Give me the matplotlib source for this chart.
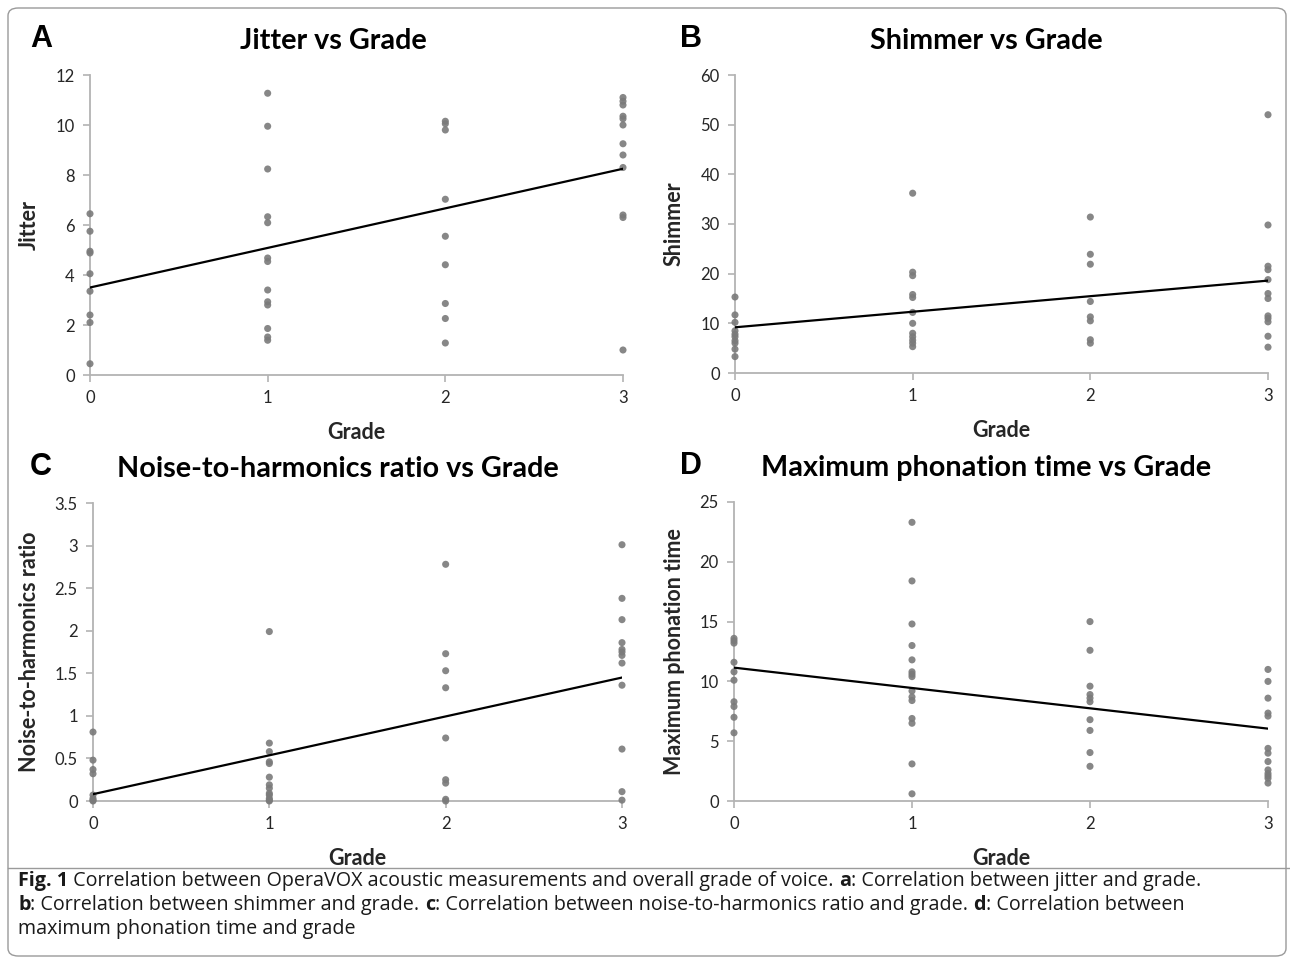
import numpy as np
import matplotlib
matplotlib.use("Agg")
import matplotlib.pyplot as plt
from matplotlib.patches import FancyBboxPatch
from matplotlib.lines import Line2D

W, H = 1290, 958
fig = plt.figure(figsize=(W / 100, H / 100), dpi=100)

grades = [0, 1, 2, 3]

# --- values, one list per grade ---
jitter = [
    [6.45, 5.75, 4.95, 4.88, 4.05, 3.35, 2.4, 2.1, 0.45],
    [11.27, 9.95, 8.24, 6.33, 6.09, 4.68, 4.54, 3.40, 2.93, 2.80, 1.86, 1.52, 1.39],
    [10.15, 10.05, 9.8, 7.03, 5.55, 4.41, 2.86, 2.26, 1.28],
    [11.1, 10.95, 10.8, 10.35, 10.25, 10.0, 9.25, 8.8, 8.3, 6.4, 6.3, 1.0],
]
shimmer = [
    [15.3, 11.7, 10.2, 8.5, 7.8, 7.3, 6.5, 6.0, 4.8, 3.3],
    [36.2, 20.3, 19.6, 15.8, 15.2, 12.2, 10.0, 8.0, 7.3, 6.6, 6.0, 5.3],
    [31.4, 23.9, 21.9, 14.4, 11.3, 10.5, 6.7, 6.0],
    [52.0, 29.8, 21.5, 20.8, 18.8, 16.0, 15.0, 11.5, 11.0, 10.3, 7.4, 5.2],
]
nhr = [
    [0.81, 0.48, 0.37, 0.32, 0.07, 0.03, 0.01, 0.0],
    [1.99, 0.68, 0.58, 0.46, 0.44, 0.28, 0.19, 0.15, 0.09, 0.07, 0.03, 0.01, 0.0],
    [2.78, 1.73, 1.53, 1.33, 0.74, 0.25, 0.21, 0.02, 0.0],
    [3.01, 2.38, 2.13, 1.86, 1.78, 1.75, 1.71, 1.62, 1.36, 0.61, 0.11, 0.01],
]
mpt = [
    [13.6, 13.4, 13.2, 11.6, 10.8, 10.1, 8.3, 7.9, 7.0, 5.7],
    [23.3, 18.4, 14.8, 13.0, 11.8, 10.8, 10.6, 10.4, 9.2, 8.7, 8.4, 6.9, 6.5, 3.1, 0.6],
    [15.0, 12.6, 9.6, 8.9, 8.6, 8.3, 6.8, 5.9, 4.05, 2.9],
    [11.0, 10.0, 8.6, 7.35, 7.1, 4.4, 4.0, 3.3, 2.6, 2.3, 2.1, 1.9, 1.5],
]

# trend lines (value at grade 0, value at grade 3)
trend_jitter = [3.5, 8.25]
trend_shimmer = [9.2, 18.6]
trend_nhr = [0.08, 1.45]
trend_mpt = [11.15, 6.05]

panels = [
    # letter, title, ylabel, data, trend, ymax, ystep, pixel box (left, top, right, bottom), title centre x
    ("A", "Jitter vs Grade", "Jitter", jitter, trend_jitter, 12, 2, (90, 75, 623, 375), 333),
    ("B", "Shimmer vs Grade", "Shimmer", shimmer, trend_shimmer, 60, 10, (735, 75, 1268, 373), 986),
    ("C", "Noise-to-harmonics ratio vs Grade", "Noise-to-harmonics ratio", nhr, trend_nhr, 3.5, 0.5,
     (93, 503, 622, 801), 338),
    ("D", "Maximum phonation time vs Grade", "Maximum phonation time", mpt, trend_mpt, 25, 5,
     (734, 502, 1268, 801), 986),
]

chart_font = "Lato"
axis_col = "#b3b3b3"
text_col = "#262626"

for letter, title, ylab, data, trend, ymax, ystep, box, tx in panels:
    l, t, r, b = box
    ax = fig.add_axes([l / W, 1 - b / H, (r - l) / W, (b - t) / H])
    for g, vals in zip(grades, data):
        ax.scatter([g] * len(vals), vals, s=26, color="#7a7a7a", edgecolor="none",
                   alpha=0.9, zorder=3, clip_on=False)
    ax.plot([grades[0], grades[-1]], trend, color="black", lw=1.6, zorder=4)

    ax.set_xlim(0, 3)
    ax.set_ylim(0, ymax)
    ax.set_xticks(grades)
    ax.set_yticks(np.arange(0, ymax + ystep / 2, ystep))
    ax.yaxis.set_major_formatter(matplotlib.ticker.FormatStrFormatter("%g"))
    for s in ["top", "right"]:
        ax.spines[s].set_visible(False)
    for s in ["left", "bottom"]:
        ax.spines[s].set_color(axis_col)
        ax.spines[s].set_linewidth(1.3)
    ax.tick_params(colors=axis_col, length=5, width=1.2, labelcolor=text_col,
                   labelsize=12, pad=6)
    for lab in ax.get_xticklabels() + ax.get_yticklabels():
        lab.set_fontfamily(chart_font)

    ax.set_title(title, fontsize=20.7, fontweight="bold", family=chart_font,
                 color="black", x=(tx - l) / (r - l), y=1.06)
    ax.set_xlabel("Grade", fontsize=15.5, fontweight="bold", family=chart_font, color=text_col)
    ax.set_ylabel(ylab, fontsize=15.5, fontweight="bold", family=chart_font, color=text_col)
    ax.xaxis.set_label_coords(0.5, -(47 / (b - t)))
    ax.yaxis.set_label_coords(-(l - (40 if l < 300 else 685)) / (r - l), 0.5)

    lx = 30 if l < 300 else 680
    ly = t - 36
    fig.text(lx / W, 1 - ly / H, letter, fontsize=22, fontweight="bold",
             family="Liberation Sans", va="center", ha="left")

# frame and caption box
frame = FancyBboxPatch((8 / W, 2 / H), (W - 12) / W, (H - 10) / H,
                       boxstyle="round,pad=0,rounding_size=0.008",
                       transform=fig.transFigure, fill=False, ec="#9a9a9a", lw=1.0)
fig.add_artist(frame)
fig.add_artist(Line2D([8 / W, 1], [1 - 868 / H, 1 - 868 / H], transform=fig.transFigure,
                      color="#9a9a9a", lw=1.0))

# caption with mixed bold / regular runs
cap_lines = [
    [("Fig. 1", True), (" Correlation between OperaVOX acoustic measurements and overall grade of voice. ", False),
     ("a", True), (": Correlation between jitter and grade.", False)],
    [("b", True), (": Correlation between shimmer and grade. ", False), ("c", True),
     (": Correlation between noise-to-harmonics ratio and grade. ", False), ("d", True),
     (": Correlation between", False)],
    [("maximum phonation time and grade", False)],
]
cap_y = [881, 905, 929]
renderer = fig.canvas.get_renderer()
for runs, yy in zip(cap_lines, cap_y):
    x = 18
    for txt, bold in runs:
        tt = fig.text(x / W, 1 - yy / H, txt, fontsize=14.2, family="Open Sans",
                      fontweight="bold" if bold else "normal", va="center", ha="left",
                      color="#1a1a1a")
        bb = tt.get_window_extent(renderer=renderer)
        x += bb.width

fig.savefig("out.png", dpi=100)
